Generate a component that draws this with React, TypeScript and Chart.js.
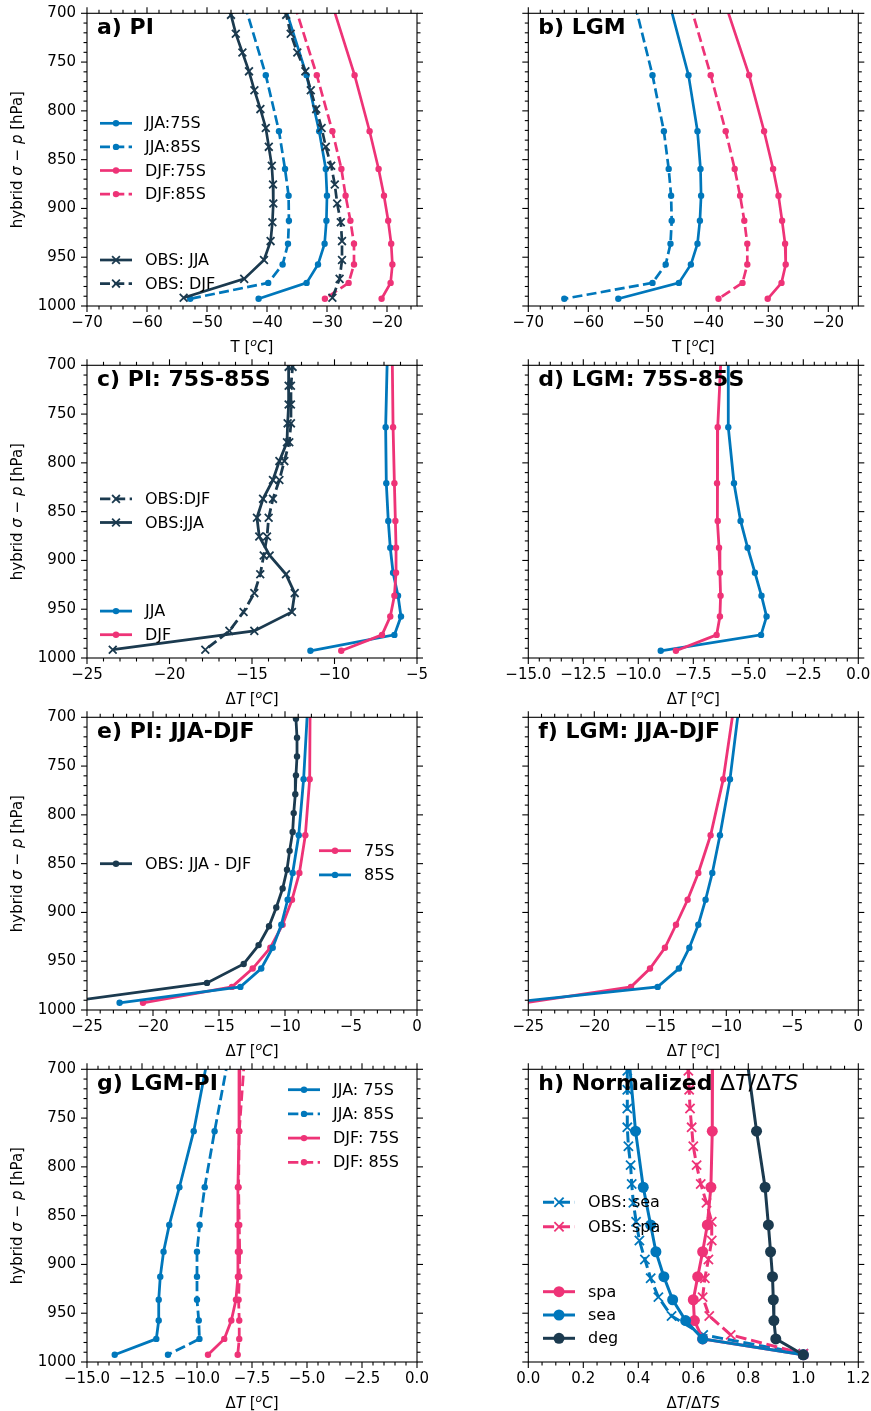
import React, { useEffect, useRef } from 'react';
import { Chart, registerables } from 'chart.js';

Chart.register(...registerables);

const FAM = "'DejaVu Sans', sans-serif";
const BLUE = '#0077BB';
const PINK = '#EE3377';
const DARK = '#1B3A4F';

// vertical levels (hPa)
const MODEL_LEVELS = [691.4, 763.4, 820.9, 859.5, 887.0, 912.6, 936.2, 957.5, 976.3, 992.6];
const OBS_LEVELS = [682.2, 701.6, 720.9, 740.2, 759.5, 778.9, 798.2, 817.5, 836.9, 856.2, 875.5, 894.9, 914.2, 933.5, 952.8, 972.2, 991.5];

// tick labels
const TICKS_P = [700, 750, 800, 850, 900, 950, 1000];
const TICKS_T = [-70, -60, -50, -40, -30, -20];
const TICKS_C = [-25, -20, -15, -10, -5];
const TICKS_D = [-15, -12.5, -10, -7.5, -5, -2.5, 0];
const TICKS_E = [-25, -20, -15, -10, -5, 0];
const TICKS_H = [0, 0.2, 0.4, 0.6, 0.8, 1.0, 1.2];

// a) PI
const A_JJA_75S = [-37.1, -33.4, -31.3, -30.2, -30.0, -30.1, -30.4, -31.5, -33.4, -41.4];
const A_JJA_85S = [-43.7, -40.2, -38.0, -37.0, -36.4, -36.35, -36.5, -37.4, -39.8, -52.8];
const A_DJF_75S = [-29.1, -25.4, -22.9, -21.4, -20.5, -19.8, -19.3, -19.1, -19.4, -20.9];
const A_DJF_85S = [-35.4, -31.7, -29.1, -27.6, -26.9, -26.1, -25.5, -25.5, -26.4, -30.35];
const A_OBS_JJA = [-46.8, -46.0, -45.2, -44.1, -43.0, -42.1, -41.1, -40.2, -39.7, -39.2, -39.0, -38.95, -39.1, -39.4, -40.5, -43.8, -53.9];
const A_OBS_DJF = [-37.4, -36.8, -36.05, -34.95, -33.6, -32.7, -31.8, -30.9, -30.2, -29.3, -28.7, -28.3, -27.7, -27.5, -27.5, -27.9, -29.1];

// b) LGM
const B_JJA_75S = [-46.4, -43.3, -41.8, -41.3, -41.2, -41.4, -41.8, -42.9, -44.9, -55.0];
const B_JJA_85S = [-52.2, -49.3, -47.4, -46.6, -46.2, -46.1, -46.3, -47.1, -49.3, -64.0];
const B_DJF_75S = [-37.1, -33.2, -30.7, -29.2, -28.3, -27.7, -27.2, -27.1, -27.8, -30.1];
const B_DJF_85S = [-43.0, -39.6, -37.1, -35.6, -34.7, -34.0, -33.5, -33.5, -34.3, -38.3];

// c) PI: 75S-85S
const C_JJA = [-6.8, -6.9, -6.86, -6.74, -6.62, -6.45, -6.15, -5.97, -6.37, -11.46];
const C_DJF = [-6.5, -6.45, -6.37, -6.31, -6.27, -6.27, -6.37, -6.62, -7.12, -9.59];
const C_OBS_DJF = [-12.45, -12.54, -12.64, -12.64, -12.64, -12.74, -13.04, -13.34, -13.73, -13.99, -14.09, -14.29, -14.5, -14.86, -15.51, -16.37, -17.83];
const C_OBS_JJA = [-12.75, -12.78, -12.78, -12.78, -12.84, -12.88, -13.34, -13.73, -14.33, -14.7, -14.56, -13.93, -12.94, -12.41, -12.58, -14.86, -23.44];

// d) LGM: 75S-85S
const D_JJA = [-5.91, -5.91, -5.65, -5.35, -5.03, -4.7, -4.4, -4.17, -4.42, -8.98];
const D_DJF = [-6.24, -6.39, -6.42, -6.39, -6.33, -6.29, -6.26, -6.29, -6.44, -8.29];

// e) PI: JJA-DJF
const E_OBS = [-9.15, -9.17, -9.09, -9.09, -9.17, -9.22, -9.34, -9.42, -9.65, -9.85, -10.18, -10.66, -11.21, -12.0, -13.13, -15.91, -26.4];
const E_75S = [-8.1, -8.13, -8.46, -8.91, -9.47, -10.18, -11.11, -12.45, -14.02, -20.76];
const E_85S = [-8.29, -8.59, -8.96, -9.42, -9.8, -10.28, -10.93, -11.8, -13.38, -22.53];

// f) LGM: JJA-DJF
const F_75S = [-9.45, -10.23, -11.19, -12.12, -12.93, -13.81, -14.65, -15.78, -17.22, -25.2];
const F_85S = [-9.06, -9.72, -10.48, -11.06, -11.57, -12.12, -12.8, -13.59, -15.2, -26.5];

// g) LGM-PI
const G_JJA_75S = [-9.54, -10.15, -10.8, -11.26, -11.52, -11.67, -11.74, -11.74, -11.85, -13.74];
const G_JJA_85S = [-8.6, -9.2, -9.65, -9.88, -10.0, -10.0, -10.0, -9.92, -9.89, -11.32];
const G_DJF_75S = [-8.05, -8.09, -8.14, -8.14, -8.14, -8.14, -8.23, -8.44, -8.76, -9.5];
const G_DJF_85S = [-7.85, -8.08, -8.11, -8.08, -8.06, -8.08, -8.11, -8.08, -8.08, -8.15];

// h) Normalized
const H_OBS_SEA = [0.36, 0.36, 0.36, 0.36, 0.36, 0.364, 0.372, 0.376, 0.382, 0.392, 0.404, 0.424, 0.445, 0.473, 0.521, 0.636, 1.0];
const H_OBS_SPA = [0.58, 0.582, 0.585, 0.588, 0.594, 0.6, 0.612, 0.627, 0.648, 0.667, 0.667, 0.655, 0.642, 0.634, 0.658, 0.736, 1.0];
const H_SPA = [0.67, 0.669, 0.664, 0.651, 0.634, 0.616, 0.6, 0.604, 0.634, 1.0];
const H_SEA = [0.367, 0.39, 0.418, 0.445, 0.464, 0.493, 0.525, 0.572, 0.634, 1.0];
const H_DEG = [0.796, 0.83, 0.861, 0.873, 0.881, 0.888, 0.891, 0.893, 0.9, 1.0];

type Marker = 'dot' | 'x' | 'big';
interface Series { label: string; levels: number[]; values: number[]; color: string; dashed?: boolean; marker: Marker; }
interface Seg { t: string; i?: boolean; b?: boolean; sup?: boolean; }
interface LegendGroup { x: number; y: number; dy: number; labels: string[]; }
interface Panel {
  row: number; col: number; title: Seg[];
  xMin: number; xMax: number; xTicks: number[]; xMinor: number; xDec: number; xTitle: Seg[];
  series: Series[]; legends: LegendGroup[]; lw: number; xr: number; dotR: number;
}

const T_TITLE: Seg[] = [{ t: 'T [' }, { t: 'o', i: true, sup: true }, { t: 'C', i: true }, { t: ']' }];
const DT_TITLE: Seg[] = [{ t: 'Δ' }, { t: 'T', i: true }, { t: ' [' }, { t: 'o', i: true, sup: true }, { t: 'C', i: true }, { t: ']' }];
const NORM_TITLE: Seg[] = [{ t: 'Δ' }, { t: 'T', i: true }, { t: '/Δ' }, { t: 'TS', i: true }];
const Y_TITLE: Seg[] = [{ t: 'hybrid ' }, { t: 'σ', i: true }, { t: ' − ' }, { t: 'p', i: true }, { t: ' [hPa]' }];

const m = (label: string, values: number[], color: string, dashed = false, marker: Marker = 'dot'): Series =>
  ({ label, levels: MODEL_LEVELS, values, color, dashed, marker });
const o = (label: string, values: number[], color: string, dashed = false): Series =>
  ({ label, levels: OBS_LEVELS, values, color, dashed, marker: 'x' });

const PANELS: Panel[] = [
  {
    row: 0, col: 0, title: [{ t: 'a) PI', b: true }], xMin: -70, xMax: -15, xTicks: TICKS_T, xMinor: 2, xDec: 0, xTitle: T_TITLE,
    lw: 2.7, xr: 5.5, dotR: 3.2,
    series: [m('JJA:75S', A_JJA_75S, BLUE), m('JJA:85S', A_JJA_85S, BLUE, true), m('DJF:75S', A_DJF_75S, PINK), m('DJF:85S', A_DJF_85S, PINK, true),
      o('OBS: JJA', A_OBS_JJA, DARK), o('OBS: DJF', A_OBS_DJF, DARK, true)],
    legends: [{ x: 13, y: 110, dy: 23.6, labels: ['JJA:75S', 'JJA:85S', 'DJF:75S', 'DJF:85S'] }, { x: 13, y: 246.7, dy: 23.6, labels: ['OBS: JJA', 'OBS: DJF'] }],
  },
  {
    row: 0, col: 1, title: [{ t: 'b) LGM', b: true }], xMin: -70, xMax: -15, xTicks: TICKS_T, xMinor: 2, xDec: 0, xTitle: T_TITLE,
    lw: 2.7, xr: 5.5, dotR: 3.2,
    series: [m('JJA:75S', B_JJA_75S, BLUE), m('JJA:85S', B_JJA_85S, BLUE, true), m('DJF:75S', B_DJF_75S, PINK), m('DJF:85S', B_DJF_85S, PINK, true)],
    legends: [],
  },
  {
    row: 1, col: 0, title: [{ t: 'c) PI: 75S-85S', b: true }], xMin: -25, xMax: -5, xTicks: TICKS_C, xMinor: 1, xDec: 0, xTitle: DT_TITLE,
    lw: 2.8, xr: 5.5, dotR: 3.2,
    series: [o('OBS:DJF', C_OBS_DJF, DARK, true), o('OBS:JJA', C_OBS_JJA, DARK), m('JJA', C_JJA, BLUE), m('DJF', C_DJF, PINK)],
    legends: [{ x: 13, y: 133.6, dy: 23.6, labels: ['OBS:DJF', 'OBS:JJA'] }, { x: 13, y: 245.8, dy: 23.6, labels: ['JJA', 'DJF'] }],
  },
  {
    row: 1, col: 1, title: [{ t: 'd) LGM: 75S-85S', b: true }], xMin: -15, xMax: 0, xTicks: TICKS_D, xMinor: 0.5, xDec: 1, xTitle: DT_TITLE,
    lw: 2.8, xr: 5.5, dotR: 3.2,
    series: [m('JJA', D_JJA, BLUE), m('DJF', D_DJF, PINK)],
    legends: [],
  },
  {
    row: 2, col: 0, title: [{ t: 'e) PI: JJA-DJF', b: true }], xMin: -25, xMax: 0, xTicks: TICKS_E, xMinor: 1, xDec: 0, xTitle: DT_TITLE,
    lw: 2.8, xr: 5.5, dotR: 3.2,
    series: [{ label: 'OBS: JJA - DJF', levels: OBS_LEVELS, values: E_OBS, color: DARK, marker: 'dot' }, m('75S', E_75S, PINK), m('85S', E_85S, BLUE)],
    legends: [{ x: 13, y: 146.4, dy: 23.6, labels: ['OBS: JJA - DJF'] }, { x: 232, y: 133.4, dy: 24.2, labels: ['75S', '85S'] }],
  },
  {
    row: 2, col: 1, title: [{ t: 'f) LGM: JJA-DJF', b: true }], xMin: -25, xMax: 0, xTicks: TICKS_E, xMinor: 1, xDec: 0, xTitle: DT_TITLE,
    lw: 2.8, xr: 5.5, dotR: 3.2,
    series: [m('75S', F_75S, PINK), m('85S', F_85S, BLUE)],
    legends: [],
  },
  {
    row: 3, col: 0, title: [{ t: 'g) LGM-PI', b: true }], xMin: -15, xMax: 0, xTicks: TICKS_D, xMinor: 0.5, xDec: 1, xTitle: DT_TITLE,
    lw: 2.8, xr: 5.5, dotR: 3.2,
    series: [m('JJA: 75S', G_JJA_75S, BLUE), m('JJA: 85S', G_JJA_85S, BLUE, true), m('DJF: 75S', G_DJF_75S, PINK), m('DJF: 85S', G_DJF_85S, PINK, true)],
    legends: [{ x: 201, y: 20.4, dy: 24.2, labels: ['JJA: 75S', 'JJA: 85S', 'DJF: 75S', 'DJF: 85S'] }],
  },
  {
    row: 3, col: 1, title: [{ t: 'h) Normalized ', b: true }, { t: 'Δ' }, { t: 'T', i: true }, { t: '/Δ' }, { t: 'TS', i: true }],
    xMin: 0, xMax: 1.2, xTicks: TICKS_H, xMinor: 0.05, xDec: 1, xTitle: NORM_TITLE,
    lw: 3, xr: 6.5, dotR: 5.5,
    series: [o('OBS: sea', H_OBS_SEA, BLUE, true), o('OBS: spa', H_OBS_SPA, PINK, true), m('spa', H_SPA, PINK, false, 'big'), m('sea', H_SEA, BLUE, false, 'big'), m('deg', H_DEG, DARK, false, 'big')],
    legends: [{ x: 14.7, y: 133, dy: 24.4, labels: ['OBS: sea', 'OBS: spa'] }, { x: 14.7, y: 222.4, dy: 23.3, labels: ['spa', 'sea', 'deg'] }],
  },
];

function drawRich(ctx: CanvasRenderingContext2D, segs: Seg[], x: number, y: number, size: number, align: 'left' | 'center', rotate: boolean, onBaseline: boolean) {
  const fontOf = (s: Seg) => `${s.i ? 'italic ' : ''}${s.b ? 'bold ' : ''}${s.sup ? Math.round(size * 0.7) : size}px ${FAM}`;
  let w = 0;
  for (const s of segs) { ctx.font = fontOf(s); w += ctx.measureText(s.t).width; }
  ctx.save();
  ctx.translate(x, y);
  if (rotate) ctx.rotate(-Math.PI / 2);
  ctx.textBaseline = 'alphabetic';
  ctx.textAlign = 'left';
  ctx.fillStyle = '#000';
  let cx = align === 'center' ? -w / 2 : 0;
  const by = onBaseline ? 0 : size * 0.33;
  for (const s of segs) {
    ctx.font = fontOf(s);
    ctx.fillText(s.t, cx, by - (s.sup ? size * 0.38 : 0));
    cx += ctx.measureText(s.t).width;
  }
  ctx.restore();
}

function fmtTick(v: number, dec: number) {
  const a = Math.abs(v).toFixed(dec);
  return (v < -1e-9 ? '\u2212' : '') + a;
}

function PanelChart({ p }: { p: Panel }) {
  const ref = useRef<HTMLCanvasElement>(null);
  const left = p.col === 0 ? 0 : 440;
  const width = p.col === 0 ? 440 : 431;
  const top = 352 * p.row;
  const height = p.row === 3 ? 355 : 360;
  const plotLeft = p.col === 0 ? 87 : 88.3;
  const plotRight = p.col === 0 ? 417 : 418.3;
  const padTop = 13.3;
  const plotH = 292.7;

  useEffect(() => {
    const n = p.series.length;
    const dashOf = (s: Series) => (s.dashed ? [p.lw * 3.7, p.lw * 1.6] : []);
    const datasets = p.series.map((s, i) => ({
      label: s.label,
      data: s.levels.map((lv, k) => ({ x: s.values[k], y: lv })),
      showLine: true,
      borderColor: s.color,
      backgroundColor: s.color,
      pointBackgroundColor: s.color,
      pointBorderColor: s.color,
      borderWidth: p.lw,
      borderDash: dashOf(s),
      pointStyle: s.marker === 'x' ? 'crossRot' : 'circle',
      pointRadius: s.marker === 'x' ? p.xr : p.dotR,
      pointBorderWidth: s.marker === 'x' ? 1.8 : 0,
      pointHoverRadius: 0,
      tension: 0,
      order: n - i,
      clip: 0,
    }));

    const xMinors: number[] = [];
    for (let v = p.xMin; v <= p.xMax + 1e-9; v += p.xMinor) xMinors.push(Math.round(v * 1000) / 1000);
    const yMinors: number[] = [];
    for (let v = 700; v <= 1000; v += 10) yMinors.push(v);

    const deco = {
      id: 'deco',
      afterDraw(chart: any) {
        const ctx: CanvasRenderingContext2D = chart.ctx;
        const a = chart.chartArea;
        const xs = chart.scales.x;
        const ys = chart.scales.y;
        ctx.save();
        ctx.strokeStyle = '#000';
        ctx.lineWidth = 1.1;
        ctx.setLineDash([]);
        const seg = (x1: number, y1: number, x2: number, y2: number) => { ctx.beginPath(); ctx.moveTo(x1, y1); ctx.lineTo(x2, y2); ctx.stroke(); };
        for (const v of xMinors) {
          const major = p.xTicks.some(t => Math.abs(t - v) < 1e-6);
          const len = major ? 6 : 3.5;
          const px = xs.getPixelForValue(v);
          seg(px, a.bottom, px, a.bottom + len);
          seg(px, a.top, px, a.top - len);
        }
        for (const v of yMinors) {
          const major = TICKS_P.includes(v);
          const len = major ? 6 : 3.5;
          const py = ys.getPixelForValue(v);
          seg(a.left, py, a.left - len, py);
          seg(a.right, py, a.right + len, py);
        }
        ctx.strokeRect(a.left, a.top, a.right - a.left, a.bottom - a.top);

        // panel title
        drawRich(ctx, p.title, a.left + 10, a.top + 20.5, 22, 'left', false, true);
        // x title
        drawRich(ctx, p.xTitle, (a.left + a.right) / 2, a.bottom + 41, 15, 'center', false, false);
        // y title
        if (p.col === 0) drawRich(ctx, Y_TITLE, a.left - 69.5, (a.top + a.bottom) / 2, 15, 'center', true, false);

        // legends
        for (const g of p.legends) {
          g.labels.forEach((lab, k) => {
            const s = p.series.find(q => q.label === lab);
            if (!s) return;
            const x0 = a.left + g.x;
            const yy = a.top + g.y + k * g.dy;
            ctx.strokeStyle = s.color;
            ctx.fillStyle = s.color;
            ctx.lineWidth = p.lw;
            ctx.setLineDash(dashOf(s));
            seg(x0, yy, x0 + 32, yy);
            ctx.setLineDash([]);
            const cx = x0 + 16;
            if (s.marker === 'x') {
              const r = p.xr * Math.SQRT1_2;
              ctx.lineWidth = 1.8;
              seg(cx - r, yy - r, cx + r, yy + r);
              seg(cx - r, yy + r, cx + r, yy - r);
            } else {
              ctx.beginPath();
              ctx.arc(cx, yy, p.dotR, 0, Math.PI * 2);
              ctx.fill();
            }
            ctx.fillStyle = '#000';
            ctx.font = `16px ${FAM}`;
            ctx.textBaseline = 'middle';
            ctx.textAlign = 'left';
            ctx.fillText(lab, x0 + 45, yy + 1);
          });
        }
        ctx.restore();
      },
    };

    const hiddenGrid = (len: number) => ({
      display: true, drawOnChartArea: false, drawTicks: true, tickLength: len,
      tickColor: 'rgba(0,0,0,0)', color: 'rgba(0,0,0,0)', lineWidth: 0,
    });

    const chart = new Chart(ref.current as HTMLCanvasElement, {
      type: 'scatter',
      data: { datasets: datasets as any },
      options: {
        animation: false,
        responsive: false,
        devicePixelRatio: 1,
        events: [],
        layout: { padding: { left: 0, top: padTop, right: width - plotRight, bottom: 0 } },
        plugins: { legend: { display: false }, tooltip: { enabled: false }, title: { display: false } },
        scales: {
          x: {
            type: 'linear', position: 'bottom', min: p.xMin, max: p.xMax,
            afterBuildTicks: (sc: any) => { sc.ticks = p.xTicks.map(v => ({ value: v })); },
            afterFit: (sc: any) => { sc.height = height - padTop - plotH; },
            grid: hiddenGrid(8.5),
            border: { display: false },
            ticks: {
              padding: 0, color: '#000', font: { family: FAM, size: 15 }, maxRotation: 0, minRotation: 0, autoSkip: false,
              callback: (v: any) => fmtTick(Number(v), p.xDec),
            },
          },
          y: {
            type: 'linear', position: 'left', reverse: true, min: 700, max: 1000,
            afterBuildTicks: (sc: any) => { sc.ticks = TICKS_P.map(v => ({ value: v })); },
            afterFit: (sc: any) => { sc.width = plotLeft; },
            grid: hiddenGrid(11),
            border: { display: false },
            ticks: {
              display: p.col === 0, padding: 0, color: '#000', font: { family: FAM, size: 15 }, autoSkip: false,
              callback: (v: any) => String(v),
            },
          },
        },
      } as any,
      plugins: [deco as any],
    });
    return () => chart.destroy();
  }, []);

  return (
    <canvas
      ref={ref}
      width={width}
      height={height}
      style={{ position: 'absolute', left, top, width, height }}
    />
  );
}

export default function App() {
  useEffect(() => {
    document.body.style.margin = '0';
  }, []);
  return (
    <div style={{ position: 'absolute', left: 0, top: 0, width: 871, height: 1411, overflow: 'hidden', background: '#fff' }}>
      {PANELS.map((p, i) => <PanelChart key={i} p={p} />)}
    </div>
  );
}
